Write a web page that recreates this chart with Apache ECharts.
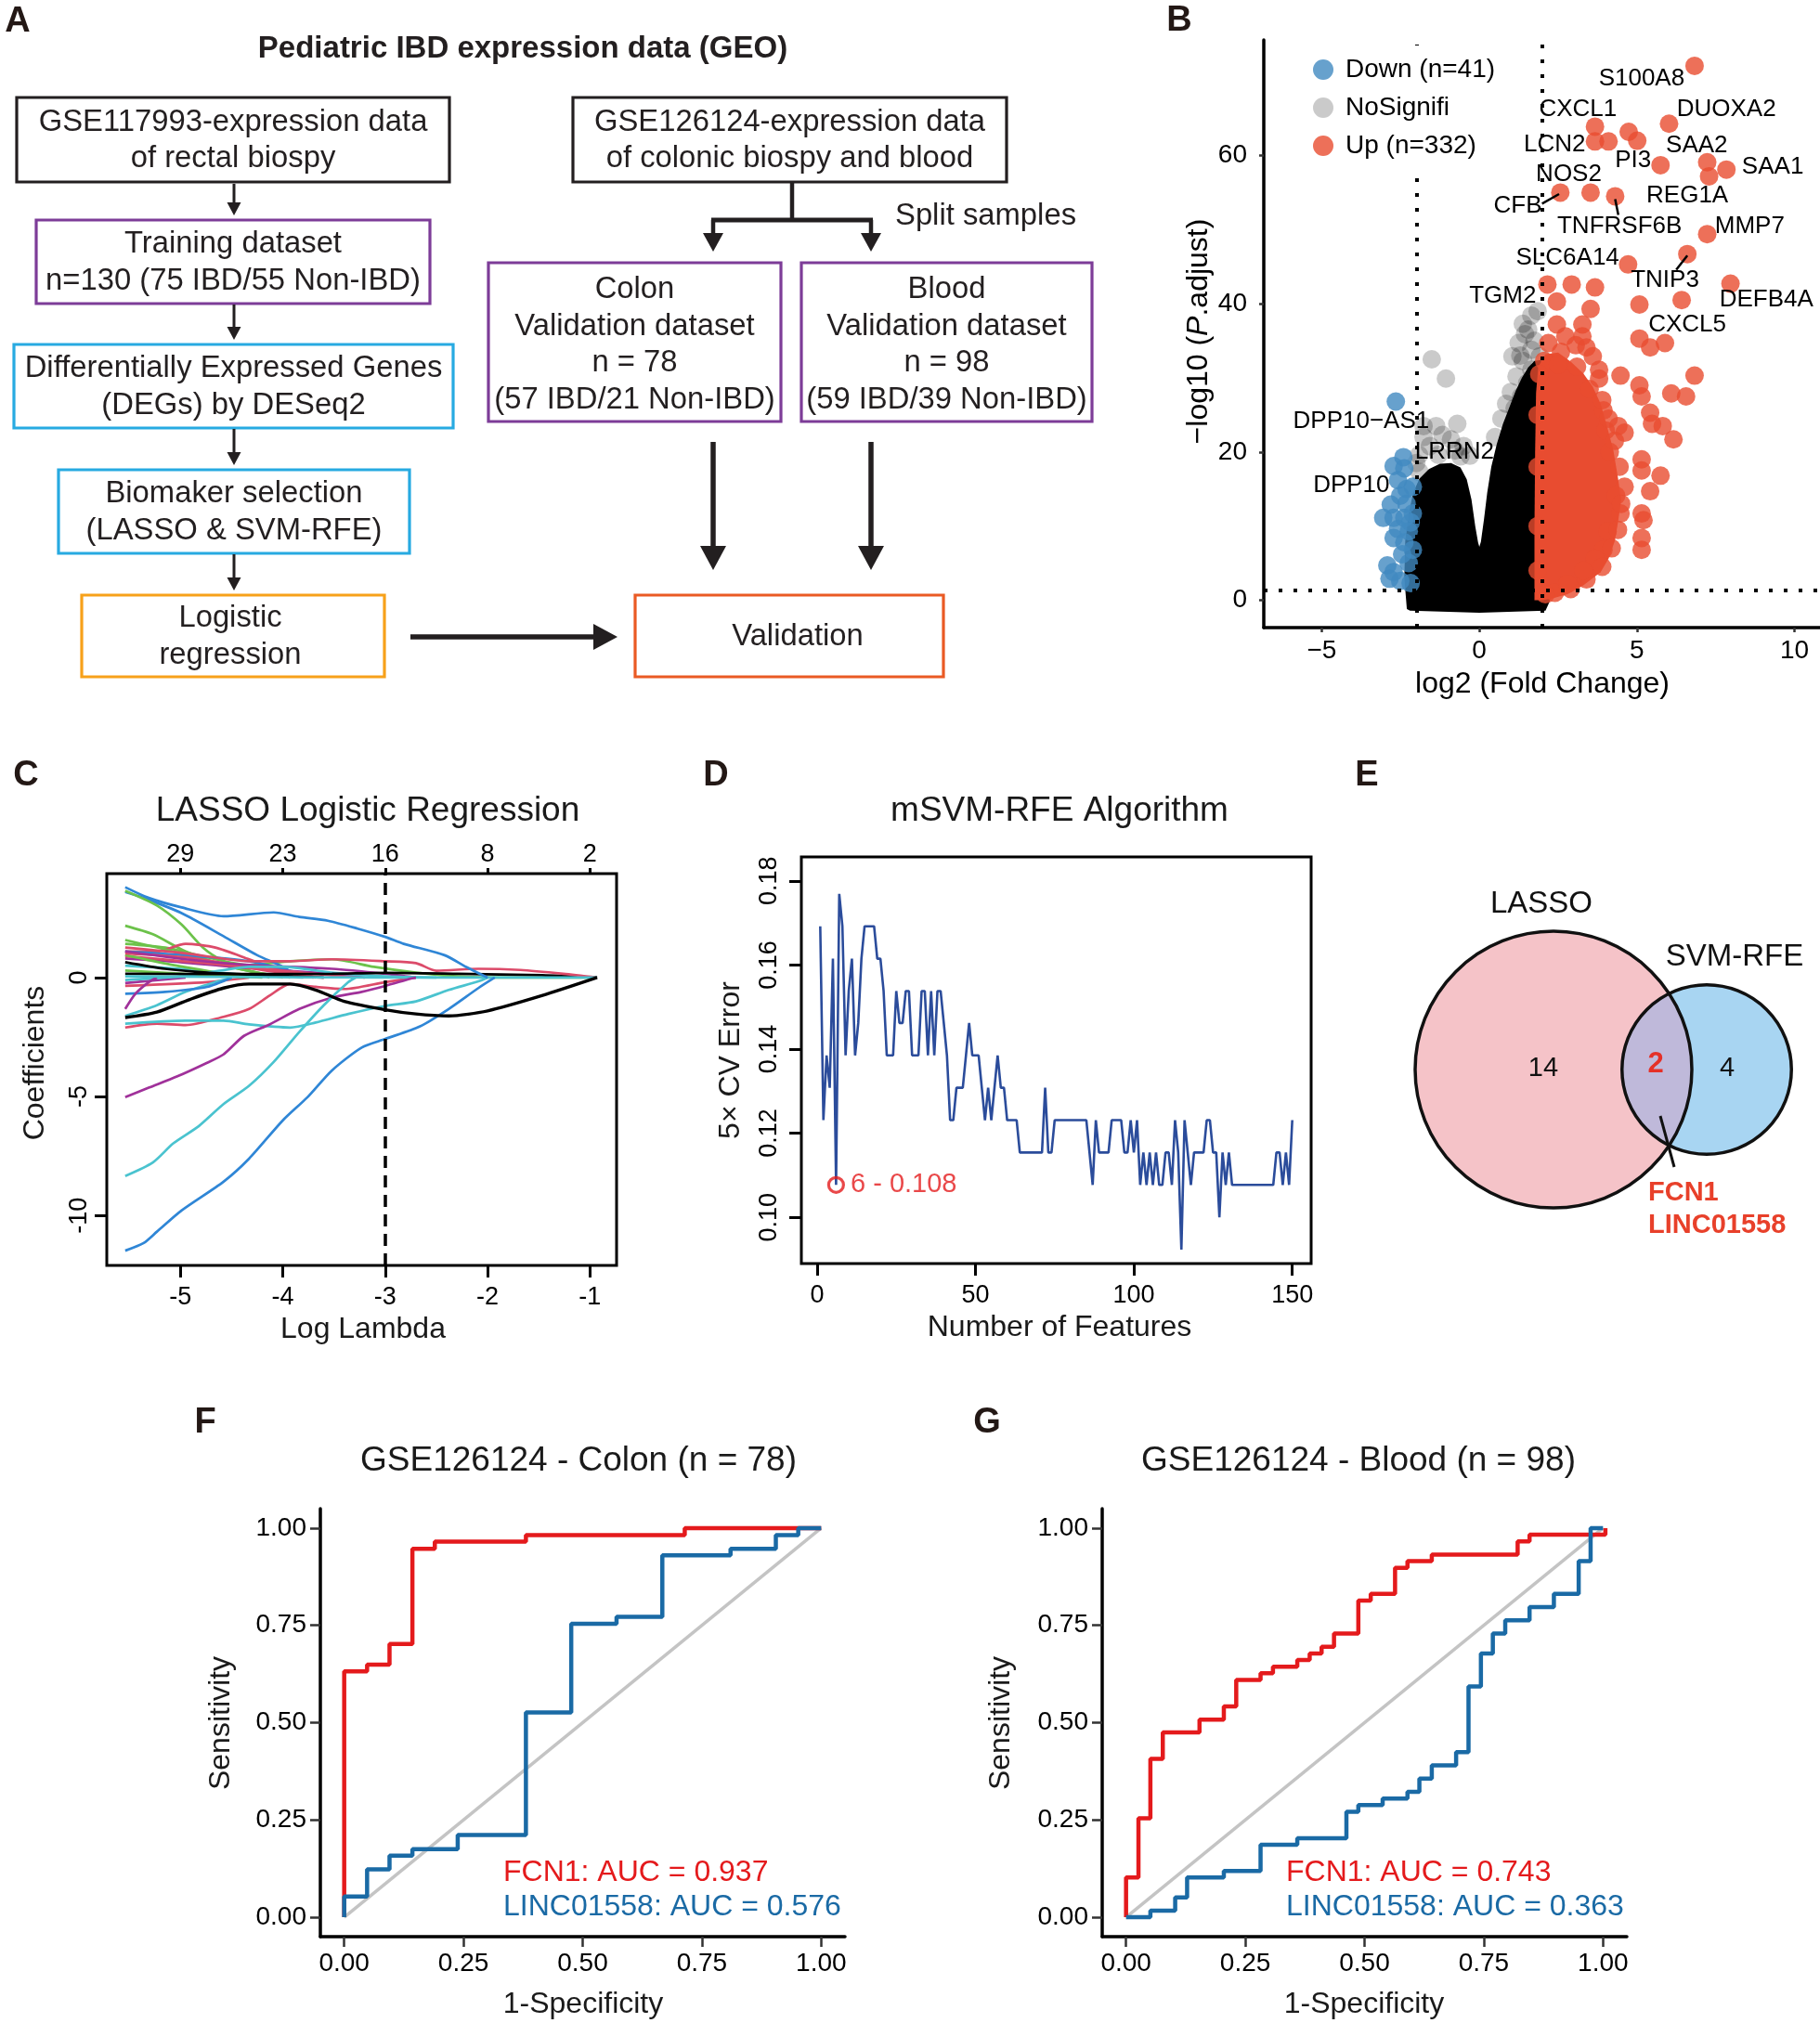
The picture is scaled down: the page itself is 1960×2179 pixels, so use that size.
<!DOCTYPE html>
<html><head><meta charset="utf-8">
<script src="https://cdn.jsdelivr.net/npm/echarts@6/dist/echarts.min.js"></script>
<style>html,body{margin:0;padding:0;background:#fff}#c{width:1960px;height:2179px}</style>
</head><body><div id="c"></div><script>
const FONT = '"Liberation Sans", Arial, Helvetica, sans-serif';
const fnt = (s, w) => (w ? w + ' ' : '') + s + 'px ' + FONT;

// ================= DATA =================
// Panel B: volcano
const volcanoLegend = ['Down (n=41)', 'NoSignifi', 'Up (n=332)'];
const volcanoDown = [[-2.65,26.8],[-2.41,19.3],[-2.72,18.1],[-2.38,17.8],[-2.58,16.2],[-2.31,15.0],[-2.51,14.1],[-2.81,12.9],[-2.31,13.0],[-3.05,11.1],[-2.72,11.1],[-2.38,11.1],[-2.58,9.6],[-2.24,9.3],[-2.72,8.4],[-2.38,7.8],[-2.18,10.5],[-2.11,6.8],[-2.45,6.2],[-2.92,4.7],[-2.24,5.0],[-2.85,2.9],[-2.51,2.6],[-2.18,2.3],[-2.72,3.8],[-2.11,11.7],[-2.11,15.3]];
const volcanoNoSig = [[-1.51,32.5],[-1.06,29.9],[-1.77,23.5],[-1.37,23.5],[-0.70,23.8],[-1.17,22.3],[-1.77,22.0],[-0.9,21.7],[-1.57,20.8],[-1.91,19.6],[-0.77,20.2],[-0.5,20.8],[1.85,39.0],[1.65,38.4],[1.38,37.3],[1.45,35.9],[1.25,34.7],[1.65,33.8],[1.92,32.9],[1.05,32.9],[1.38,32.3],[1.65,31.1],[1.18,30.2],[1.52,29.3],[1.0,28.1],[1.32,27.5],[1.79,28.1],[0.85,26.5],[1.12,25.9],[1.55,36.5],[1.75,35.0],[1.3,33.0],[0.7,24.5],[0.5,22.0],[-0.3,19.5],[-2.0,18.5],[-1.3,19.6],[-0.6,19.4],[-1.9,17.3]];
const volcanoNoSigDense = [[-2.3,-1.2],[-2.38,3],[-2.35,8],[-2.25,11.5],[-2.1,14.5],[-1.9,16.4],[-1.6,17.7],[-1.25,18.4],[-0.9,18.5],[-0.6,17.9],[-0.4,16.3],[-0.25,13.6],[-0.13,10],[-0.04,7.8],[0.0,7.2],[0.05,7.9],[0.15,11],[0.25,14.5],[0.38,18],[0.55,21],[0.75,23.8],[0.95,26],[1.15,28.2],[1.35,30],[1.55,31.4],[1.75,32.3],[1.95,32.4],[2.15,30],[2.25,25],[2.25,0],[2.1,-1.4],[0,-1.7],[-2.2,-1.4]];
const volcanoUp = [[6.83,72.1],[3.67,63.9],[3.67,61.9],[4.1,61.9],[4.74,63.2],[5.01,62.0],[6.02,64.3],[5.75,58.7],[7.23,59.1],[7.84,58.1],[7.29,57.2],[2.57,55.0],[3.53,55.0],[4.31,54.5],[7.23,49.4],[6.6,46.7],[4.72,45.3],[7.97,42.7],[2.16,42.6],[2.93,42.6],[3.67,42.2],[2.46,40.3],[5.08,39.9],[6.42,40.5],[2.46,37.2],[3.27,37.2],[3.53,39.3],[5.08,35.3],[5.42,34.1],[5.89,34.7],[3.06,34.4],[3.4,34.1],[4.48,30.3],[6.83,30.3],[3.8,31.1],[5.08,29.0],[5.15,27.5],[6.09,27.9],[6.56,27.5],[3.94,25.6],[4.41,23.5],[5.42,25.3],[5.48,23.8],[4.61,22.6],[4.01,22.9],[6.16,21.7],[5.82,23.5],[4.14,20.0],[5.15,19.0],[5.15,17.5],[5.75,16.8],[5.42,14.7],[5.15,11.7],[5.21,10.8],[5.15,8.4],[5.15,6.8],[4.61,15.3],[4.34,14.1],[4.48,11.7],[4.07,9.3],[3.94,6.8],[3.67,5.6],[2.19,34.7],[2.59,33.5],[3.6,32.9],[3.27,35.6],[2.73,35.6],[2.06,32.3],[3.8,29.9],[3.1,31.5],[2.5,31.8],[3.5,28.5],[3.9,27.0],[4.1,24.5],[4.3,21.5],[4.45,18.0],[4.5,13.0],[4.4,9.5],[4.2,7.0],[3.9,4.5],[3.4,2.8],[2.9,1.5],[2.4,1.0],[2.1,0.8],[2.8,2.2],[3.3,4.0],[1.9,30.5],[1.85,25],[1.85,18],[1.85,10],[1.85,4]];
const volcanoUpDense = [[1.75,0.0],[1.75,10],[1.77,20],[1.8,28],[1.87,31.5],[2.1,33.2],[2.5,33.4],[2.9,32.2],[3.3,30.6],[3.6,28.8],[3.85,26.5],[4.05,23.5],[4.25,20.3],[4.4,16.5],[4.5,13.5],[4.4,10.5],[4.3,8],[4.1,5.6],[3.85,3.8],[3.3,2.0],[2.8,0.8],[2.3,0.2],[2.0,0.0]];
const geneLabels = [['S100A8',5.15,70.4],['CXCL1',3.13,66.2],['DUOXA2',7.84,66.2],['LCN2',2.39,61.5],['SAA2',6.9,61.3],['PI3',4.88,59.3],['SAA1',9.31,58.5],['NOS2',2.84,57.5],['CFB',1.22,53.2],['REG1A',6.6,54.6],['TNFRSF6B',4.45,50.5],['MMP7',8.58,50.5],['SLC6A14',2.8,46.2],['TNIP3',5.89,43.2],['DEFB4A',9.11,40.5],['TGM2',0.74,41.1],['CXCL5',6.6,37.2],['DPP10\u2212AS1',-3.75,24.1],['LRRN2',-0.79,20.0],['DPP10',-4.06,15.5]];
const geneLeaders = [[[1.99,53.5],[2.53,54.8]],[[4.41,52.0],[4.31,54.1]],[[6.25,44.6],[6.6,46.5]]];
const volcanoXTicks = [-5, 0, 5, 10];
const volcanoYTicks = [0, 20, 40, 60];
const fcCut = [-2, 2];
const padjCut = 1.3;

// Panel C: LASSO coefficient paths (x = log lambda, y = coefficient)
const lassoPaths = [
 [[-5.54,1.42],[-5.15,1.26],[-4.74,0.85],[-4.33,0.53],[-3.93,0.69],[-3.52,0.77],[-3.11,0.45],[-2.7,0.21],[-2.29,0.05],[-1.89,0],[-0.93,0]],
 [[-5.54,3.6],[-5.36,3.35],[-4.99,2.71],[-4.58,1.74],[-4.25,0.94],[-4.0,0.45],[-3.84,0]],
 [[-5.54,3.65],[-5.23,3.03],[-4.99,2.23],[-4.78,1.26],[-4.58,0.69],[-4.33,0.29],[-4.13,0]],
 [[-5.54,2.18],[-5.27,1.82],[-4.95,1.1],[-4.58,0.53],[-4.25,0.21],[-4.0,0]],
 [[-5.54,1.1],[-5.23,1.1],[-4.95,1.42],[-4.66,1.26],[-4.33,0.77],[-4.13,0.45],[-3.93,0.2],[-3.7,0]],
 [[-5.54,1.58],[-5.07,1.1],[-4.66,0.61],[-4.25,0.21],[-3.93,0]],
 [[-5.54,1.1],[-4.95,0.94],[-4.33,0.69],[-3.93,0.29],[-3.68,0]],
 [[-5.54,-0.35],[-4.74,-0.19],[-4.33,0]],
 [[-5.54,-0.23],[-4.95,0]],
 [[-5.54,0.5],[-4.95,0.35],[-4.33,0.1],[-3.8,0]],
 [[-5.54,0.3],[-4.74,0.1],[-4.2,0]],
 [[-5.54,0.8],[-5.0,0.65],[-4.5,0.45],[-4.0,0.3],[-3.5,0.15],[-3.2,0]],
 [[-5.54,0.9],[-5.0,0.7],[-4.5,0.5],[-4.0,0.2],[-3.6,0]],
 [[-5.54,0.95],[-5.1,0.55],[-4.7,0.25],[-4.4,0]],
 [[-5.54,1.02],[-4.95,0.85],[-4.33,0.45],[-3.8,0.2],[-3.3,0]],
 [[-5.54,1.1],[-4.95,0.77],[-4.33,0.53],[-3.52,0.37],[-3.0,0.16],[-2.7,0]],
 [[-5.54,-0.1],[-5.0,0.05],[-4.6,0.3],[-4.33,0.45],[-4.0,0.45],[-3.5,0.2],[-3.0,0.05],[-2.5,0]],
 [[-5.54,0.65],[-5.15,0.37],[-4.74,0.21],[-4.33,0.13],[-3.9,0.05],[-3.6,0]],
 [[-5.54,0.16],[-4.5,0.15],[-3.52,0.16],[-3.0,0.2],[-2.29,0.16],[-1.47,0.1],[-0.93,0]],
 [[-5.54,-1.61],[-5.23,-1.16],[-4.95,-0.6],[-4.66,-0.19],[-4.5,0]],
 [[-5.54,-0.68],[-5.15,-0.6],[-4.74,-0.39],[-4.5,0]],
 [[-5.54,-1.32],[-5.44,-0.68],[-5.31,-0.19],[-5.23,0]],
 [[-5.54,-2.1],[-5.23,-1.94],[-4.95,-2.0],[-4.58,-1.65],[-4.33,-1.32],[-4.13,-0.76],[-3.93,-0.27],[-3.68,-0.39],[-3.4,-0.48],[-3.0,-0.19],[-2.7,0]],
 [[-5.54,-1.94],[-4.95,-1.81],[-4.58,-1.81],[-4.33,-1.97],[-3.93,-2.1],[-3.68,-1.89],[-3.36,-1.53],[-3.0,-1.19],[-2.7,-1.0],[-2.38,-0.52],[-2.09,-0.16],[-2.0,0]],
 [[-5.54,1.26],[-4.95,1.02],[-4.33,0.69],[-3.93,0.69],[-3.52,0.77],[-3.0,0.69],[-2.7,0.61],[-2.5,0.29],[-2.09,0.37],[-1.68,0.32],[-1.26,0.16],[-0.93,0]],
 [[-5.54,0.05],[-3.0,0],[-0.93,0]],
 [[-5.54,3.8],[-5.31,3.35],[-4.99,2.95],[-4.58,2.58],[-4.09,2.74],[-3.84,2.55],[-3.56,2.39],[-3.27,2.06],[-3.0,1.71],[-2.82,1.42],[-2.42,0.94],[-2.21,0.45],[-2.0,0]],
 [[-5.54,-5.03],[-5.31,-4.63],[-5.03,-4.15],[-4.74,-3.58],[-4.58,-3.23],[-4.38,-2.45],[-4.13,-1.97],[-3.84,-1.32],[-3.52,-0.84],[-3.23,-0.6],[-3.0,-0.35],[-2.74,-0.03],[-2.7,0]],
 [[-5.54,-8.34],[-5.27,-7.77],[-5.07,-6.97],[-4.82,-6.24],[-4.58,-5.32],[-4.33,-4.55],[-4.09,-3.55],[-3.84,-2.29],[-3.6,-1.16],[-3.36,-0.19],[-3.29,0]],
 [[-5.54,-11.48],[-5.36,-11.16],[-5.23,-10.68],[-4.99,-9.79],[-4.58,-8.58],[-4.33,-7.61],[-4.0,-6.0],[-3.76,-5.03],[-3.52,-3.9],[-3.23,-2.94],[-3.0,-2.58],[-2.66,-2.05],[-2.38,-1.32],[-2.09,-0.44],[-1.93,0]],
 [[-5.54,-1.68],[-5.23,-1.45],[-4.91,-0.92],[-4.58,-0.44],[-4.33,-0.27],[-3.93,-0.27],[-3.68,-0.52],[-3.4,-1.0],[-3.0,-1.35],[-2.7,-1.53],[-2.38,-1.61],[-2.0,-1.4],[-1.47,-0.76],[-0.93,0]]
];
const lassoColors = ['#6cc24a','#2f86d6','#6cc24a','#6cc24a','#dc4b6a','#6cc24a','#2f86d6','#dc4b6a','#a0319a','#4ac3cf','#6cc24a','#a0319a','#dc4b6a','#6cc24a','#dc4b6a','#a0319a','#4ac3cf','#000000','#000000','#4ac3cf','#2f86d6','#a0319a','#dc4b6a','#4ac3cf','#dc4b6a','#4ac3cf','#2f86d6','#a0319a','#4ac3cf','#2f86d6','#000000'];
const lassoXTicks = [-5, -4, -3, -2, -1];
const lassoTopCounts = [29, 23, 16, 8, 2];
const lassoYTicks = [0, -5, -10];
const lassoLambdaMin = -3;

// Panel D: 5x CV error for 1..150 features
const svmError = [0.1692,0.1231,0.1385,0.1308,0.1615,0.1077,0.1769,0.1692,0.1385,0.1538,
 0.1615,0.1385,0.1462,0.1615,0.1692,0.1692,0.1692,0.1692,0.1615,0.1615,
 0.1538,0.1385,0.1385,0.1385,0.1538,0.1462,0.1462,0.1538,0.1538,0.1385,
 0.1385,0.1385,0.1538,0.1538,0.1385,0.1538,0.1385,0.1538,0.1538,0.1462,
 0.1385,0.1231,0.1231,0.1308,0.1308,0.1308,0.1385,0.1462,0.1385,0.1385,
 0.1385,0.1308,0.1231,0.1308,0.1231,0.1308,0.1385,0.1308,0.1308,0.1231,
 0.1231,0.1231,0.1231,0.1154,0.1154,0.1154,0.1154,0.1154,0.1154,0.1154,
 0.1154,0.1308,0.1154,0.1154,0.1231,0.1231,0.1231,0.1231,0.1231,0.1231,
 0.1231,0.1231,0.1231,0.1231,0.1231,0.1154,0.1077,0.1231,0.1154,0.1154,
 0.1154,0.1154,0.1231,0.1231,0.1231,0.1231,0.1154,0.1154,0.1231,0.1154,
 0.1231,0.1077,0.1154,0.1077,0.1154,0.1077,0.1154,0.1077,0.1077,0.1154,
 0.1154,0.1077,0.1231,0.1154,0.0923,0.1231,0.1154,0.1077,0.1154,0.1154,
 0.1154,0.1154,0.1231,0.1231,0.1154,0.1154,0.1000,0.1154,0.1077,0.1154,
 0.1077,0.1077,0.1077,0.1077,0.1077,0.1077,0.1077,0.1077,0.1077,0.1077,
 0.1077,0.1077,0.1077,0.1077,0.1154,0.1154,0.1077,0.1154,0.1077,0.1231];
const svmBest = [6, 0.1077];
const svmBestLabel = '6 - 0.108';
const svmXTicks = [0, 50, 100, 150];
const svmYTicks = [0.10, 0.12, 0.14, 0.16, 0.18];

// Panel E: Venn
const vennSets = ['LASSO', 'SVM-RFE'];
const vennOnly = [14, 4];
const vennShared = 2;
const vennGenes = ['FCN1', 'LINC01558'];

// Panels F, G: ROC curves [1-specificity, sensitivity]
const rocTicks = [0, 0.25, 0.5, 0.75, 1];
const rocColonFCN1 = [[0,0],[0,0.632],[0.048,0.632],[0.048,0.649],[0.095,0.649],[0.095,0.702],[0.143,0.702],[0.143,0.947],[0.19,0.947],[0.19,0.965],[0.381,0.965],[0.381,0.982],[0.714,0.982],[0.714,1],[1,1]];
const rocColonLINC = [[0,0],[0,0.053],[0.048,0.053],[0.048,0.123],[0.095,0.123],[0.095,0.158],[0.143,0.158],[0.143,0.175],[0.238,0.175],[0.238,0.211],[0.381,0.211],[0.381,0.526],[0.476,0.526],[0.476,0.754],[0.571,0.754],[0.571,0.772],[0.667,0.772],[0.667,0.93],[0.81,0.93],[0.81,0.947],[0.905,0.947],[0.905,0.982],[0.952,0.982],[0.952,1],[1,1]];
const rocBloodFCN1 = [[0,0],[0,0.102],[0.026,0.102],[0.026,0.254],[0.051,0.254],[0.051,0.407],[0.077,0.407],[0.077,0.475],[0.154,0.475],[0.154,0.508],[0.205,0.508],[0.205,0.542],[0.231,0.542],[0.231,0.61],[0.282,0.61],[0.282,0.627],[0.308,0.627],[0.308,0.644],[0.359,0.644],[0.359,0.661],[0.385,0.661],[0.385,0.678],[0.41,0.678],[0.41,0.695],[0.436,0.695],[0.436,0.729],[0.487,0.729],[0.487,0.814],[0.513,0.814],[0.513,0.831],[0.564,0.831],[0.564,0.898],[0.59,0.898],[0.59,0.915],[0.641,0.915],[0.641,0.932],[0.821,0.932],[0.821,0.966],[0.846,0.966],[0.846,0.983],[1.005,0.983],[1.005,1]];
const rocBloodLINC = [[0,0],[0.051,0],[0.051,0.017],[0.103,0.017],[0.103,0.051],[0.128,0.051],[0.128,0.102],[0.205,0.102],[0.205,0.119],[0.282,0.119],[0.282,0.186],[0.359,0.186],[0.359,0.203],[0.462,0.203],[0.462,0.271],[0.487,0.271],[0.487,0.288],[0.538,0.288],[0.538,0.305],[0.59,0.305],[0.59,0.322],[0.615,0.322],[0.615,0.356],[0.641,0.356],[0.641,0.39],[0.692,0.39],[0.692,0.424],[0.718,0.424],[0.718,0.593],[0.744,0.593],[0.744,0.678],[0.769,0.678],[0.769,0.729],[0.795,0.729],[0.795,0.763],[0.846,0.763],[0.846,0.797],[0.897,0.797],[0.897,0.831],[0.949,0.831],[0.949,0.915],[0.974,0.915],[0.974,1],[1,1]];
const rocDiag = [[0,0],[1,1]];
const aucColon = ['FCN1: AUC = 0.937', 'LINC01558: AUC = 0.576'];
const aucBlood = ['FCN1: AUC = 0.743', 'LINC01558: AUC = 0.363'];

// ================= STYLE / LAYOUT =================
const RED = '#e41a1c', BLUE = '#1a6aa5';
const UPC = '#e84c30', DOWNC = '#4189c0';

function txt(x, y, text, size, o) {
  o = o || {};
  const st = {text: text, font: fnt(size, o.weight), fill: o.color || '#1a1a1a',
    textAlign: o.align || 'center', textVerticalAlign: o.valign || 'middle',
    align: o.align || 'center', verticalAlign: o.valign || 'middle'};
  if (o.rich) st.rich = o.rich;
  return {type: 'text', x: x, y: y, rotation: o.rot || 0, z: 100, style: st};
}
function rect(x, y, w, h, c) {
  return {type: 'rect', shape: {x: x, y: y, width: w, height: h}, style: {fill: 'none', stroke: c, lineWidth: 3.2}, z: 100};
}
function vArrow(x, y1, y2, lw, hw, hh, c) {
  return [{type: 'line', shape: {x1: x, y1: y1, x2: x, y2: y2 - hh + 2}, style: {stroke: c, lineWidth: lw}, z: 100},
    {type: 'polygon', shape: {points: [[x - hw / 2, y2 - hh], [x + hw / 2, y2 - hh], [x, y2]]}, style: {fill: c}, z: 100}];
}
function hArrow(x1, x2, y, lw, hw, hh, c) {
  return [{type: 'line', shape: {x1: x1, y1: y, x2: x2 - hh + 2, y2: y}, style: {stroke: c, lineWidth: lw}, z: 100},
    {type: 'polygon', shape: {points: [[x2 - hh, y - hw / 2], [x2 - hh, y + hw / 2], [x2, y]]}, style: {fill: c}, z: 100}];
}

const G = [];
// ---- Panel A flowchart ----
const INK = '#231f20', PUR = '#7d3c98', CYA = '#27aae1', ORA = '#f7a11a', ORR = '#ea5a24';
const boxes = [
  [18, 105, 466, 91, INK, ['GSE117993-expression data', 'of rectal biospy'], 0],
  [39, 237, 424, 90, PUR, ['Training dataset', 'n=130 (75 IBD/55 Non-IBD)'], 0],
  [15, 371, 473, 90, CYA, ['Differentially Expressed Genes', '(DEGs) by DESeq2'], 0],
  [63, 506, 378, 90, CYA, ['Biomaker selection', '(LASSO & SVM-RFE)'], 0],
  [88, 641, 326, 88, ORA, ['Logistic', 'regression'], -3],
  [684, 641, 332, 88, ORR, ['Validation'], 9],
  [617, 105, 467, 91, INK, ['GSE126124-expression data', 'of colonic biospy and blood'], 0],
  [526, 283, 315, 171, PUR, ['Colon', 'Validation dataset', 'n = 78', '(57 IBD/21 Non-IBD)'], 0],
  [863, 283, 313, 171, PUR, ['Blood', 'Validation dataset', 'n = 98', '(59 IBD/39 Non-IBD)'], 0]
];
boxes.forEach(b => {
  G.push(rect(b[0], b[1], b[2], b[3], b[4]));
  const n = b[5].length, sp = 39.5;
  const cy = b[1] + b[3] / 2 + (n > 2 ? 3 : 1);
  b[5].forEach((t, i) => G.push(txt(b[0] + b[2] / 2 + b[6], cy + (i - (n - 1) / 2) * sp, t, 32.8, {color: INK})));
});
G.push(txt(563, 53, 'Pediatric IBD expression data (GEO)', 33, {weight: 'bold', color: INK}));
[[198, 232], [328, 366], [462, 501], [597, 636]].forEach(s => G.push(...vArrow(252, s[0], s[1], 3, 15, 14, INK)));
G.push(...hArrow(442, 665, 686, 5.5, 28, 26, INK));
G.push({type: 'line', shape: {x1: 853, y1: 197, x2: 853, y2: 237}, style: {stroke: INK, lineWidth: 4.5}, z: 100});
G.push({type: 'line', shape: {x1: 766, y1: 237, x2: 940, y2: 237}, style: {stroke: INK, lineWidth: 5}, z: 100});
G.push(...vArrow(768, 237, 271, 4.5, 22, 20, INK));
G.push(...vArrow(938, 237, 271, 4.5, 22, 20, INK));
G.push(txt(964, 233, 'Split samples', 32.8, {align: 'left', color: INK}));
G.push(...vArrow(768, 476, 614, 5.5, 28, 26, INK));
G.push(...vArrow(938, 476, 614, 5.5, 28, 26, INK));

// ---- panel letters ----
[['A', 19, 24], ['B', 1270, 23], ['C', 28, 836], ['D', 771, 836], ['E', 1472, 836], ['F', 221, 1533], ['G', 1063, 1533]]
  .forEach(p => G.push(txt(p[1], p[2], p[0], 38, {weight: 'bold', color: '#231815'})));

// ---- axis titles / panel titles ----
G.push(txt(1661, 737, 'log2 (Fold Change)', 32, {color: '#000'}));
G.push(txt(1291, 357, '\u2212log10 ({i|P}.adjust)', 32, {color: '#000', rot: Math.PI / 2,
  rich: {i: {fontStyle: 'italic', fontSize: 32, fontFamily: FONT, fill: '#000', color: '#000'}}}));
G.push(txt(396, 874, 'LASSO Logistic Regression', 37));
G.push(txt(391, 1432, 'Log Lambda', 32));
G.push(txt(38, 1145, 'Coefficients', 32, {rot: Math.PI / 2}));
G.push(txt(1141, 874, 'mSVM-RFE Algorithm', 37));
G.push(txt(1141, 1430, 'Number of Features', 32));
G.push(txt(787, 1142, '5\u00d7 CV Error', 32, {rot: Math.PI / 2}));
G.push(txt(623, 1574, 'GSE126124 - Colon (n = 78)', 37));
G.push(txt(1463, 1574, 'GSE126124 - Blood (n = 98)', 37));
G.push(txt(238, 1856, 'Sensitivity', 32, {rot: Math.PI / 2}));
G.push(txt(1078, 1856, 'Sensitivity', 32, {rot: Math.PI / 2}));
G.push(txt(628, 2159, '1-Specificity', 32));
G.push(txt(1469, 2159, '1-Specificity', 32));
G.push(txt(542, 2017, aucColon[0], 32, {align: 'left', color: RED}));
G.push(txt(542, 2054, aucColon[1], 32, {align: 'left', color: BLUE}));
G.push(txt(1385, 2017, aucBlood[0], 32, {align: 'left', color: RED}));
G.push(txt(1385, 2054, aucBlood[1], 32, {align: 'left', color: BLUE}));

// ================= AXES =================
const lbl = (size, margin, extra) => Object.assign({fontSize: size, color: '#000', fontFamily: FONT, margin: margin}, extra || {});
function ggX(gi, min, max, ticks, fmt, size, margin, tlen) {
  return {gridIndex: gi, type: 'value', min: min, max: max, splitLine: {show: false},
    axisLine: {show: true, onZero: false, lineStyle: {color: '#000', width: 3.5}},
    axisTick: {show: true, length: tlen, customValues: ticks, lineStyle: {color: '#333', width: 2.5}},
    axisLabel: lbl(size, margin, {customValues: ticks, formatter: fmt})};
}
function boxAx(gi, min, max, ticks, fmt, size, margin, tlen, extra) {
  return Object.assign({gridIndex: gi, type: 'value', min: min, max: max, splitLine: {show: false},
    axisLine: {show: false, onZero: false},
    axisTick: {show: true, length: tlen, customValues: ticks, lineStyle: {color: '#000', width: 3}},
    axisLabel: lbl(size, margin, {customValues: ticks, formatter: fmt})}, extra || {});
}
const minus = v => v < 0 ? '\u2212' + Math.abs(v) : String(v);
const f2 = v => v.toFixed(2);

const grids = [
  {left: 1361, top: 43, width: 599, height: 633},            // B
  {left: 115, top: 941, width: 549, height: 422, show: true, borderColor: '#000', borderWidth: 3},  // C
  {left: 863, top: 923, width: 549, height: 438, show: true, borderColor: '#000', borderWidth: 3},  // D
  {left: 1440, top: 880, width: 520, height: 480},           // E
  {left: 345, top: 1625, width: 565, height: 461},           // F
  {left: 1187, top: 1625, width: 565, height: 461}           // G
].map(g => Object.assign({containLabel: false, outerBoundsMode: 'none'}, g));

const xAxes = [
  ggX(0, -6.84, 10.81, volcanoXTicks, minus, 28, 11, 5),
  boxAx(1, -5.72, -0.74, lassoXTicks, v => String(v), 27, 21, 13, {position: 'bottom'}),
  boxAx(1, -5.72, -0.74, lassoXTicks, v => { const i = lassoXTicks.indexOf(v); return i >= 0 ? String(lassoTopCounts[i]) : ''; }, 27, 7, 6, {position: 'top'}),
  boxAx(2, -4.96, 155.96, svmXTicks, v => String(v), 27, 21, 13, {position: 'bottom'}),
  {gridIndex: 3, type: 'value', min: 0, max: 520, show: false},
  ggX(4, -0.05, 1.05, rocTicks, f2, 28, 15, 11),
  ggX(5, -0.05, 1.05, rocTicks, f2, 28, 15, 11)
];
const yAxes = [
  ggX(0, -3.7, 75.6, volcanoYTicks, String, 28, 18, 5),
  boxAx(1, -12.1, 4.37, lassoYTicks, v => String(v), 27, 16, 13, {position: 'left', axisLabel: lbl(27, 16, {customValues: lassoYTicks, rotate: 90, formatter: v => String(v)})}),
  boxAx(2, 0.089, 0.1857, svmYTicks, f2, 27, 21, 13, {position: 'left', axisLabel: lbl(27, 21, {customValues: svmYTicks, rotate: 90, formatter: f2})}),
  {gridIndex: 3, type: 'value', min: 0, max: 480, inverse: true, show: false},
  ggX(4, -0.05, 1.05, rocTicks, f2, 28, 15, 11),
  ggX(5, -0.05, 1.05, rocTicks, f2, 28, 15, 11)
];

// ================= SERIES =================
const S = [];
const poly = (name, pts, color, z) => ({type: 'custom', name: name, xAxisIndex: 0, yAxisIndex: 0, silent: true, z: z, data: [[0, 0]],
  renderItem: (p, api) => ({type: 'polygon', shape: {points: pts.map(q => api.coord(q))}, style: {fill: color}})});
S.push(poly('nsDense', volcanoNoSigDense, '#000', 1));
S.push({type: 'scatter', name: volcanoLegend[1], xAxisIndex: 0, yAxisIndex: 0, data: volcanoNoSig, symbolSize: 20, z: 2,
  itemStyle: {color: 'rgba(0,0,0,0.26)'}, silent: true});
S.push(poly('upDense', volcanoUpDense, UPC, 3));
S.push({type: 'scatter', name: volcanoLegend[2], xAxisIndex: 0, yAxisIndex: 0, data: volcanoUp, symbolSize: 20, z: 4,
  itemStyle: {color: UPC}, silent: true});
S.push({type: 'scatter', name: volcanoLegend[0], xAxisIndex: 0, yAxisIndex: 0, data: volcanoDown, symbolSize: 20, z: 4,
  itemStyle: {color: DOWNC}, silent: true,
  markLine: {silent: true, symbol: 'none', animation: false, label: {show: false}, z: 6,
    lineStyle: {color: '#000', width: 4, type: [4, 12], cap: 'butt'},
    data: [{xAxis: fcCut[0]}, {xAxis: fcCut[1]}, {yAxis: padjCut}]}});
S.push({type: 'custom', name: 'leaders', xAxisIndex: 0, yAxisIndex: 0, silent: true, z: 9, data: geneLeaders.map((l, i) => [i, 0]),
  renderItem: (p, api) => { const l = geneLeaders[p.dataIndex]; const a = api.coord(l[0]), b = api.coord(l[1]);
    return {type: 'line', shape: {x1: a[0], y1: a[1], x2: b[0], y2: b[1]}, style: {stroke: '#000', lineWidth: 2.5}}; }});
S.push({type: 'custom', name: 'genes', xAxisIndex: 0, yAxisIndex: 0, silent: true, z: 10, data: geneLabels.map(g => [g[1], g[2]]),
  renderItem: (p, api) => { const c = api.coord([api.value(0), api.value(1)]);
    return {type: 'text', x: c[0], y: c[1], style: {text: geneLabels[p.dataIndex][0], font: fnt(26), fill: '#000',
      textAlign: 'center', textVerticalAlign: 'middle', align: 'center', verticalAlign: 'middle'}}; }});

// LASSO
lassoPaths.forEach((p, i) => S.push({type: 'line', xAxisIndex: 1, yAxisIndex: 1, data: p, symbol: 'none', smooth: 0.25,
  silent: true, lineStyle: {color: lassoColors[i], width: i === lassoPaths.length - 1 ? 3.4 : 2.7},
  markLine: i === lassoPaths.length - 1 ? {silent: true, symbol: 'none', label: {show: false}, animation: false,
    lineStyle: {color: '#000', width: 3.5, type: [13, 8]}, data: [{xAxis: lassoLambdaMin}]} : undefined}));

// SVM-RFE
S.push({type: 'line', xAxisIndex: 3, yAxisIndex: 2, data: svmError.map((v, i) => [i + 1, v]), symbol: 'none', silent: true,
  lineStyle: {color: '#2b4c9b', width: 2.6}});
S.push({type: 'scatter', xAxisIndex: 3, yAxisIndex: 2, data: [svmBest], symbol: 'circle', symbolSize: 16, silent: true, z: 5,
  itemStyle: {color: 'rgba(0,0,0,0)', borderColor: RED, borderWidth: 3.2},
  label: {show: true, position: 'right', distance: 6, formatter: svmBestLabel, color: RED, fontSize: 29, fontFamily: FONT}});

// Venn
S.push({type: 'custom', xAxisIndex: 4, yAxisIndex: 3, silent: true, data: [[0, 0]],
  renderItem: (p, api) => {
    const K = 37.25;
    const sz = [vennOnly[0] + vennShared, vennOnly[1] + vennShared];
    const r1 = api.size([K * Math.sqrt(sz[0]), 0])[0], r2 = api.size([K * Math.sqrt(sz[1]), 0])[0];
    const c1 = api.coord([233, 272]), c2 = api.coord([398, 272]);
    const d = c2[0] - c1[0];
    const a = (d * d + r1 * r1 - r2 * r2) / (2 * d);
    const h = Math.sqrt(r1 * r1 - a * a);
    const t1 = Math.atan2(h, a), t2 = Math.atan2(h, d - a);
    const pts = [];
    for (let k = 0; k <= 60; k++) { const an = -t1 + 2 * t1 * k / 60; pts.push([c1[0] + r1 * Math.cos(an), c1[1] + r1 * Math.sin(an)]); }
    for (let k = 0; k <= 60; k++) { const an = Math.PI - t2 + 2 * t2 * k / 60; pts.push([c2[0] + r2 * Math.cos(an), c2[1] + r2 * Math.sin(an)]); }
    const P = q => api.coord(q);
    const T = (q, t, s, col, w, al) => { const c = P(q); return {type: 'text', x: c[0], y: c[1], style: {text: t, font: fnt(s, w), fill: col,
      textAlign: al || 'center', textVerticalAlign: 'middle', align: al || 'center', verticalAlign: 'middle'}}; };
    const L1 = P([348, 322]), L2 = P([363, 377]);
    return {type: 'group', children: [
      {type: 'circle', shape: {cx: c1[0], cy: c1[1], r: r1}, style: {fill: '#f5c3c8'}},
      {type: 'circle', shape: {cx: c2[0], cy: c2[1], r: r2}, style: {fill: '#a8d5f2'}},
      {type: 'polygon', shape: {points: pts}, style: {fill: '#bfb9da'}},
      {type: 'circle', shape: {cx: c1[0], cy: c1[1], r: r1}, style: {fill: 'none', stroke: '#111', lineWidth: 3.5}},
      {type: 'circle', shape: {cx: c2[0], cy: c2[1], r: r2}, style: {fill: 'none', stroke: '#111', lineWidth: 3.5}},
      {type: 'line', shape: {x1: L1[0], y1: L1[1], x2: L2[0], y2: L2[1]}, style: {stroke: '#111', lineWidth: 3}},
      T([220, 94], vennSets[0], 33, '#111'),
      T([428, 151], vennSets[1], 33, '#111'),
      T([222, 271], String(vennOnly[0]), 29, '#111'),
      T([343, 266], String(vennShared), 31, '#e53027', 'bold'),
      T([420, 271], String(vennOnly[1]), 29, '#111'),
      T([335, 405], vennGenes[0], 29, '#e8402a', 'bold', 'left'),
      T([335, 440], vennGenes[1], 29, '#e8402a', 'bold', 'left')
    ]};
  }});

// ROC
function roc(xi, yi, red, blue) {
  S.push({type: 'line', xAxisIndex: xi, yAxisIndex: yi, data: rocDiag, symbol: 'none', silent: true, lineStyle: {color: '#c4c4c4', width: 3.5}});
  S.push({type: 'line', xAxisIndex: xi, yAxisIndex: yi, data: red, symbol: 'none', silent: true, lineStyle: {color: RED, width: 4.5}});
  S.push({type: 'line', xAxisIndex: xi, yAxisIndex: yi, data: blue, symbol: 'none', silent: true, lineStyle: {color: BLUE, width: 4.5}});
}
roc(5, 4, rocColonFCN1, rocColonLINC);
roc(6, 5, rocBloodFCN1, rocBloodLINC);

const option = {
  animation: false,
  backgroundColor: '#fff',
  textStyle: {fontFamily: FONT},
  grid: grids,
  xAxis: xAxes,
  yAxis: yAxes,
  legend: {data: volcanoLegend.map(n => ({name: n, icon: 'circle'})), orient: 'vertical', left: 1404, top: 49, padding: [12, 14, 12, 10],
    backgroundColor: '#fff', z: 20,
    itemWidth: 22, itemHeight: 22, itemGap: 13, selectedMode: false,
    textStyle: {fontSize: 28, color: '#000', fontFamily: FONT, lineHeight: 22, padding: [0, 0, 0, 8]}},
  series: S,
  graphic: {elements: G}
};
const chart = echarts.init(document.getElementById('c'), null, {renderer: 'canvas', width: 1960, height: 2179});
chart.setOption(option);
</script></body></html>
